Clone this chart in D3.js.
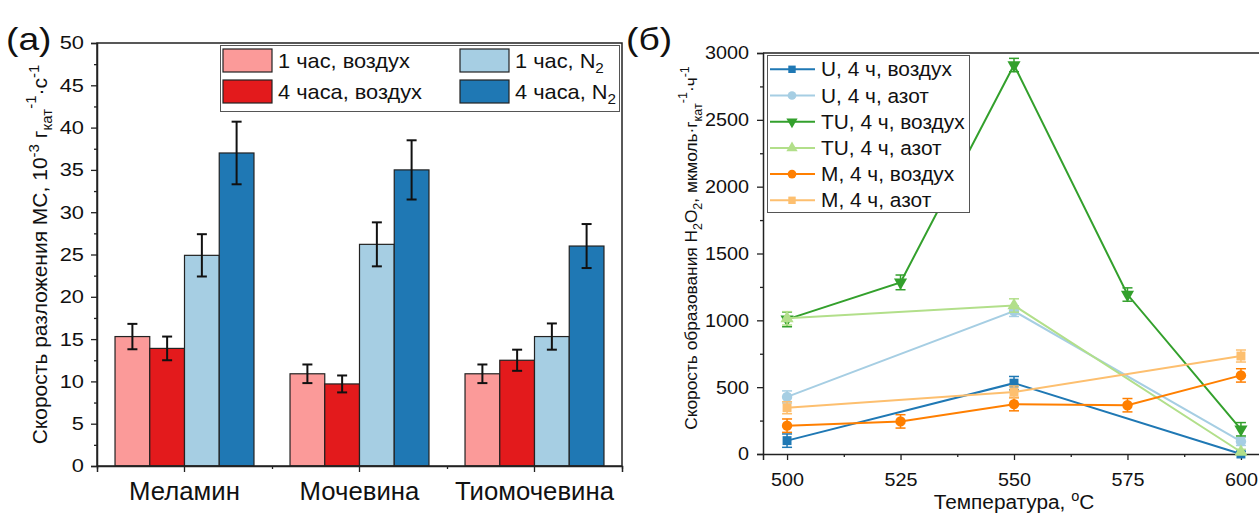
<!DOCTYPE html>
<html>
<head>
<meta charset="utf-8">
<script src="https://cdn.jsdelivr.net/npm/d3@7"></script>
<style>
  html, body { margin: 0; padding: 0; background: #fff; }
  svg { display: block; font-family: Arial, "Liberation Sans", sans-serif; }
</style>
</head>
<body>
<svg id="chart" width="1259" height="514"></svg>
<script>
// ---------- Panel (а): decomposition rate, grouped bars ----------
const categories = ["Меламин", "Мочевина", "Тиомочевина"];
const barSeries = ["1 час, воздух", "4 часа, воздух", "1 час, N2", "4 часа, N2"];
const barColors = ["#fb9a99", "#e31a1c", "#a6cee3", "#1f78b4"];
// values per series, in category order
const rate1hAir = [15.3, 10.9, 10.9];
const rate4hAir = [13.9, 9.7, 12.5];
const rate1hN2  = [24.9, 26.2, 15.3];
const rate4hN2  = [37.0, 35.0, 26.0];
const err1hAir = [1.5, 1.1, 1.1];
const err4hAir = [1.4, 1.0, 1.25];
const err1hN2  = [2.5, 2.6, 1.55];
const err4hN2  = [3.7, 3.5, 2.6];
const barYTicks = [0, 5, 10, 15, 20, 25, 30, 35, 40, 45, 50];

// ---------- Panel (б): H2O2 formation rate vs temperature ----------
const temperatures = [500, 525, 550, 575, 600];
const lineYTicks = [0, 500, 1000, 1500, 2000, 2500, 3000];
const lineNames = ["U, 4 ч, воздух", "U, 4 ч, азот", "TU, 4 ч, воздух", "TU, 4 ч, азот", "M, 4 ч, воздух", "M, 4 ч, азот"];
const lineColors = ["#1f78b4", "#a6cee3", "#33a02c", "#b2df8a", "#ff7f00", "#fdbf6f"];
const lineSymbols = ["square", "circle", "triDown", "triUp", "circle", "square"];
// null = not measured at that temperature
const uAir   = [100, null, 530, null, 0];
const uN2    = [427, null, 1069, null, 94];
const tuAir  = [1007, 1284, 2910, 1193, 185];
const tuN2   = [1015, null, 1111, null, 15];
const mAir   = [212, 244, 373, 365, 588];
const mN2    = [346, null, 464, null, 733];
const uAirErr  = [50, null, 50, null, 20];
const uN2Err   = [45, null, 40, null, 30];
const tuAirErr = [55, 55, 50, 50, 50];
const tuN2Err  = [50, null, 50, null, 20];
const mAirErr  = [50, 50, 50, 50, 50];
const mN2Err   = [45, null, 45, null, 45];

const svg = d3.select("#chart");
const axisColor = "#222";
const FONT = "Arial, 'Liberation Sans', sans-serif";
// horizontal text stretch used for tick numbers / legends
const SX_A = 1.18;
const SX_LEG_A = 1.09;
const SX_CAT = 1.03;
const SX_B = 1.07;

// text placed at (x, y) and stretched horizontally by sx
function stretchedText(parent, x, y, sx, size) {
  return parent.append("g").attr("transform", `translate(${x},${y}) scale(${sx},1)`)
    .append("text").attr("font-size", size).attr("fill", "#111");
}

// ======================= Panel (а) =======================
const A = { left: 97, right: 622, top: 43, bottom: 466 };
const xA = d3.scaleBand().domain(categories).range([A.left, A.right]);
const xA1 = d3.scaleBand().domain(barSeries)
  .range([xA.bandwidth() * 0.103, xA.bandwidth() * 0.897]);
const yA = d3.scaleLinear().domain([0, 50]).range([A.bottom, A.top]);

const barValues = [rate1hAir, rate4hAir, rate1hN2, rate4hN2];
const barErrors = [err1hAir, err4hAir, err1hN2, err4hN2];
const barData = [];
barSeries.forEach((s, si) => categories.forEach((c, ci) => {
  barData.push({ cat: c, series: s, si, v: barValues[si][ci], e: barErrors[si][ci] });
}));

const gA = svg.append("g");
gA.selectAll("rect.bar").data(barData).join("rect")
  .attr("class", "bar")
  .attr("x", d => xA(d.cat) + xA1(d.series))
  .attr("y", d => yA(d.v))
  .attr("width", xA1.bandwidth())
  .attr("height", d => yA(0) - yA(d.v))
  .attr("fill", d => barColors[d.si])
  .attr("stroke", "#222")
  .attr("stroke-width", 1.2);

const errA = gA.selectAll("g.err").data(barData).join("g").attr("class", "err")
  .attr("stroke", "#111").attr("stroke-width", 2);
errA.append("line")
  .attr("x1", d => xA(d.cat) + xA1(d.series) + xA1.bandwidth() / 2)
  .attr("x2", d => xA(d.cat) + xA1(d.series) + xA1.bandwidth() / 2)
  .attr("y1", d => yA(d.v + d.e)).attr("y2", d => yA(d.v - d.e));
[1, -1].forEach(sgn => {
  errA.append("line")
    .attr("x1", d => xA(d.cat) + xA1(d.series) + xA1.bandwidth() / 2 - 5)
    .attr("x2", d => xA(d.cat) + xA1(d.series) + xA1.bandwidth() / 2 + 5)
    .attr("y1", d => yA(d.v + sgn * d.e)).attr("y2", d => yA(d.v + sgn * d.e));
});

// frame
gA.append("rect").attr("x", A.left).attr("y", A.top)
  .attr("width", A.right - A.left).attr("height", A.bottom - A.top)
  .attr("fill", "none").attr("stroke", axisColor).attr("stroke-width", 1.5);

// y axis
const yAxisA = gA.append("g").attr("transform", `translate(${A.left},0)`)
  .call(d3.axisLeft(yA).tickValues(barYTicks).tickSize(6).tickPadding(5));
gA.append("g").attr("transform", `translate(${A.left},0)`)
  .call(d3.axisLeft(yA).tickValues(d3.range(2.5, 50, 5)).tickSize(3).tickFormat(""))
  .call(g => g.select(".domain").remove());
// x axis
const xAxisA = gA.append("g").attr("transform", `translate(0,${A.bottom})`)
  .call(d3.axisBottom(xA).tickSize(6).tickPadding(10));
gA.append("g").attr("transform", `translate(0,${A.bottom})`)
  .call(d3.axisBottom(d3.scaleLinear().domain([0, 3]).range([A.left, A.right]))
    .tickValues([0, 1, 2, 3]).tickSize(3).tickFormat(""))
  .call(g => g.select(".domain").remove());

gA.selectAll(".domain").attr("stroke", axisColor).attr("stroke-width", 1.5);
gA.selectAll(".tick line").attr("stroke", axisColor).attr("stroke-width", 1.3);
yAxisA.selectAll(".tick text").attr("font-size", 18.5).attr("fill", "#111")
  .attr("font-family", FONT).attr("x", -13 / SX_A).attr("transform", `scale(${SX_A},1)`);
xAxisA.selectAll(".tick text").attr("font-size", 25).attr("fill", "#111")
  .attr("font-family", FONT).attr("transform", `scale(${SX_CAT},1)`);

// y label
const labA = svg.append("text")
  .attr("transform", `translate(47,${(A.top + A.bottom) / 2}) rotate(-90)`)
  .attr("text-anchor", "middle").attr("font-size", 21).attr("fill", "#111");
labA.append("tspan").text("Скорость разложения МС, 10");
labA.append("tspan").attr("dy", -8).attr("font-size", 15).text("-3");
labA.append("tspan").attr("dy", 8).text(" г");
labA.append("tspan").attr("dy", 5).attr("font-size", 15).text("кат");
labA.append("tspan").attr("dy", -16).attr("font-size", 15).text("-1");
labA.append("tspan").attr("dy", 11).text("·с");
labA.append("tspan").attr("dy", -8).attr("font-size", 15).text("-1");

stretchedText(svg, 6, 50, 1.2, 31).text("(a)");

// legend (а)
const legA = svg.append("g");
legA.append("rect").attr("x", 220.5).attr("y", 45.5).attr("width", 399).attr("height", 66)
  .attr("fill", "#fff").attr("stroke", "#555").attr("stroke-width", 1);
const legPosA = [[223, 49], [223, 80], [460, 49], [460, 80]];
barSeries.forEach((s, i) => {
  const [lx, ly] = legPosA[i];
  legA.append("rect").attr("x", lx).attr("y", ly).attr("width", 49).attr("height", 23)
    .attr("fill", barColors[i]).attr("stroke", "#222").attr("stroke-width", 1.2);
  const t = stretchedText(legA, lx + 55, ly + 19, SX_LEG_A, 20);
  if (s.endsWith("N2")) {
    t.append("tspan").text(s.slice(0, -1));
    t.append("tspan").attr("dy", 5).attr("font-size", 14).text("2");
  } else {
    t.text(s);
  }
});

// ======================= Panel (б) =======================
const B = { left: 763, right: 1265, top: 53, bottom: 454 };
const xB = d3.scaleLinear().domain([494.7, 605.3]).range([B.left, B.right]);
const yB = d3.scaleLinear().domain([0, 3000]).range([B.bottom, B.top]);

const lineValues = [uAir, uN2, tuAir, tuN2, mAir, mN2];
const lineErrors = [uAirErr, uN2Err, tuAirErr, tuN2Err, mAirErr, mN2Err];
const lineSeries = lineNames.map((name, i) => ({
  name, i,
  pts: temperatures.map((t, k) => ({ t, v: lineValues[i][k], e: lineErrors[i][k] }))
    .filter(p => p.v !== null)
}));

const symbolOf = {
  square: d3.symbolSquare,
  circle: d3.symbolCircle,
  triDown: d3.symbolTriangle,
  triUp: d3.symbolTriangle
};
function drawSymbol(sel, kind, size) {
  sel.attr("d", d3.symbol().type(symbolOf[kind]).size(size)())
     .attr("data-rot", kind === "triDown" ? 180 : 0);
}

const gB = svg.append("g");
// axes (drawn first so the data sits on top)
const xAxisB = gB.append("g").attr("transform", `translate(0,${B.bottom})`)
  .call(d3.axisBottom(xB).tickValues(temperatures).tickSize(6).tickPadding(13));
gB.append("g").attr("transform", `translate(0,${B.bottom})`)
  .call(d3.axisBottom(xB).tickValues([512.5, 537.5, 562.5, 587.5]).tickSize(3).tickFormat(""))
  .call(g => g.select(".domain").remove());
const yAxisB = gB.append("g").attr("transform", `translate(${B.left},0)`)
  .call(d3.axisLeft(yB).tickValues(lineYTicks).tickSize(6).tickPadding(5)
    .tickFormat(d3.format("d")));
gB.append("g").attr("transform", `translate(${B.left},0)`)
  .call(d3.axisLeft(yB).tickValues(d3.range(250, 3000, 500)).tickSize(3).tickFormat(""))
  .call(g => g.select(".domain").remove());
gB.append("line").attr("x1", B.left).attr("x2", B.right).attr("y1", B.top).attr("y2", B.top)
  .attr("stroke", axisColor).attr("stroke-width", 1.5);
gB.selectAll(".domain").attr("stroke", axisColor).attr("stroke-width", 1.5);
gB.selectAll(".tick line").attr("stroke", axisColor).attr("stroke-width", 1.3);
gB.selectAll(".tick text").attr("font-size", 18.5).attr("fill", "#111")
  .attr("font-family", FONT).attr("transform", `scale(${SX_B},1)`);
yAxisB.selectAll(".tick text").attr("x", -14 / SX_B);

const line = d3.line().x(p => xB(p.t)).y(p => yB(p.v));
const sG = gB.selectAll("g.series").data(lineSeries).join("g").attr("class", "series");
sG.append("path").attr("d", d => line(d.pts)).attr("fill", "none")
  .attr("stroke", d => lineColors[d.i]).attr("stroke-width", 2);
sG.each(function (d) {
  const g = d3.select(this);
  const col = lineColors[d.i];
  d.pts.forEach(p => {
    const cx = xB(p.t);
    g.append("line").attr("x1", cx).attr("x2", cx)
      .attr("y1", yB(p.v + p.e)).attr("y2", yB(Math.max(0, p.v - p.e)))
      .attr("stroke", col).attr("stroke-width", 1.5);
    [p.v + p.e, Math.max(0, p.v - p.e)].forEach(yv => {
      g.append("line").attr("x1", cx - 5).attr("x2", cx + 5)
        .attr("y1", yB(yv)).attr("y2", yB(yv))
        .attr("stroke", col).attr("stroke-width", 1.5);
    });
    const kind = lineSymbols[d.i];
    const sym = g.append("path").attr("fill", col);
    drawSymbol(sym, kind, kind === "circle" ? 85 : (kind === "square" ? 80 : 75));
    sym.attr("transform", `translate(${cx},${yB(p.v)}) rotate(${sym.attr("data-rot")})`);
  });
});

// y label
const labB = svg.append("text")
  .attr("transform", `translate(697,248) rotate(-90)`)
  .attr("text-anchor", "middle").attr("font-size", 17.3).attr("fill", "#111");
labB.append("tspan").text("Скорость образования H");
labB.append("tspan").attr("dy", 5).attr("font-size", 12.5).text("2");
labB.append("tspan").attr("dy", -5).text("O");
labB.append("tspan").attr("dy", 5).attr("font-size", 12.5).text("2");
labB.append("tspan").attr("dy", -5).text(", мкмоль·г");
labB.append("tspan").attr("dy", 5).attr("font-size", 12.5).text("кат");
labB.append("tspan").attr("dy", -15).attr("font-size", 12.5).text("-1");
labB.append("tspan").attr("dy", 10).text("·ч");
labB.append("tspan").attr("dy", -8).attr("font-size", 12.5).text("-1");

// x label
const labBx = stretchedText(svg, 1014, 509, 1.04, 20).attr("text-anchor", "middle");
labBx.append("tspan").text("Температура, ");
labBx.append("tspan").attr("dy", -8).attr("font-size", 14).text("o");
labBx.append("tspan").attr("dy", 8).text("C");

stretchedText(svg, 626, 50, 1.2, 31).text("(б)");

// legend (б)
const legB = svg.append("g");
legB.append("rect").attr("x", 767.5).attr("y", 55.5).attr("width", 202).attr("height", 157)
  .attr("fill", "#fff").attr("stroke", "#555").attr("stroke-width", 1);
lineNames.forEach((n, i) => {
  const cy = 69.3 + i * 26.2;
  legB.append("line").attr("x1", 770).attr("x2", 815).attr("y1", cy).attr("y2", cy)
    .attr("stroke", lineColors[i]).attr("stroke-width", 2);
  const kind = lineSymbols[i];
  const sym = legB.append("path").attr("fill", lineColors[i]);
  drawSymbol(sym, kind, kind === "circle" ? 60 : 55);
  sym.attr("transform", `translate(792,${cy}) rotate(${sym.attr("data-rot")})`);
  stretchedText(legB, 821, cy + 7, SX_B, 19.5).text(n);
});
</script>
</body>
</html>
